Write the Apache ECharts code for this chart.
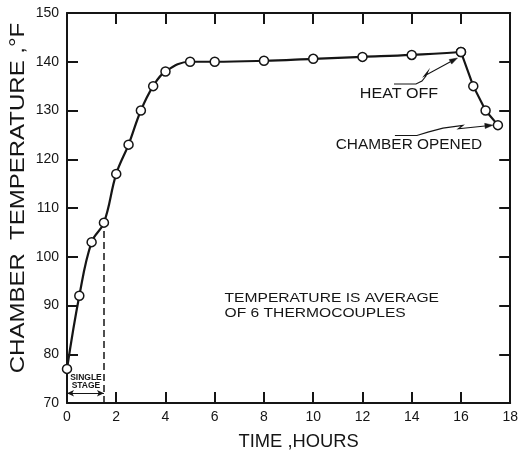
<!DOCTYPE html>
<html><head><meta charset="utf-8">
<script src="https://cdn.jsdelivr.net/npm/echarts@6/dist/echarts.min.js"></script>
<style>html,body{margin:0;padding:0;background:#fff}#c{width:521px;height:454px}</style>
</head><body><div id="c"></div>
<script>
// ---- data ----
const heatingHours = [0, 0.5, 1, 1.5, 2, 2.5, 3, 3.5, 4, 5, 6, 8, 10, 12, 14, 16];
const heatingTemps = [77, 92, 103, 107, 117, 123, 130, 135, 138, 140, 140, 140.2, 140.6, 141, 141.4, 142];
const coolingHours = [16, 16.5, 17, 17.5];
const coolingTemps = [142, 135, 130, 127];
const xTickLabels = [0, 2, 4, 6, 8, 10, 12, 14, 16, 18];
const yTickLabels = [70, 80, 90, 100, 110, 120, 130, 140, 150];
const singleStageEnd = 1.5;
const xName = 'TIME ,HOURS';
const yName = 'CHAMBER  TEMPERATURE ,°F';
const noteLines = ['TEMPERATURE IS AVERAGE', 'OF 6 THERMOCOUPLES'];
const heatOffLabel = 'HEAT OFF';
const openedLabel = 'CHAMBER OPENED';

const INK = '#151515';
const FONT = '"Liberation Sans", Arial, sans-serif';
const pair = (xs, ys) => xs.map((x, i) => [x, ys[i]]);

const chart = echarts.init(document.getElementById('c'), null, {renderer: 'canvas'});

const xMin = xTickLabels[0], xMax = xTickLabels[xTickLabels.length - 1];
const yMin = yTickLabels[0], yMax = yTickLabels[yTickLabels.length - 1];
const xInt = xTickLabels[1] - xTickLabels[0], yInt = yTickLabels[1] - yTickLabels[0];

const axisCommon = {
  type: 'value',
  axisLine: {show: true, onZero: false, lineStyle: {color: INK, width: 2}},
  axisTick: {show: true, inside: true, length: 11, lineStyle: {color: INK, width: 2}},
  splitLine: {show: false}
};

chart.setOption({
  animation: false,
  backgroundColor: '#fff',
  grid: {left: 67, right: 9, top: 13, bottom: 51},
  xAxis: [
    Object.assign({}, axisCommon, {
      position: 'bottom', min: xMin, max: xMax, interval: xInt,
      axisLabel: {show: true, margin: 7, color: INK, fontSize: 14, fontFamily: FONT}
    }),
    Object.assign({}, axisCommon, {
      position: 'top', min: xMin, max: xMax, interval: xInt,
      axisLabel: {show: false}
    })
  ],
  yAxis: [
    Object.assign({}, axisCommon, {
      position: 'left', min: yMin, max: yMax, interval: yInt,
      axisLabel: {show: true, margin: 8, color: INK, fontSize: 14, fontFamily: FONT}
    }),
    Object.assign({}, axisCommon, {
      position: 'right', min: yMin, max: yMax, interval: yInt,
      axisLabel: {show: false}
    })
  ],
  series: [
    {
      type: 'line', xAxisIndex: 0, yAxisIndex: 0,
      data: pair(heatingHours, heatingTemps),
      smooth: 0.4,
      symbol: 'circle', symbolSize: 9,
      itemStyle: {color: '#fff', borderColor: INK, borderWidth: 1.5},
      lineStyle: {color: INK, width: 2.2},
      z: 5,
      markLine: {
        silent: true, symbol: ['none', 'none'], label: {show: false},
        lineStyle: {color: INK, width: 1.5, type: [7, 4]},
        data: [[{coord: [singleStageEnd, yMin]}, {coord: [singleStageEnd, heatingTemps[heatingHours.indexOf(singleStageEnd)]]}]]
      }
    },
    {
      type: 'line', xAxisIndex: 0, yAxisIndex: 0,
      data: pair(coolingHours, coolingTemps),
      smooth: false,
      symbol: 'circle', symbolSize: 9,
      itemStyle: {color: '#fff', borderColor: INK, borderWidth: 1.5},
      lineStyle: {color: INK, width: 2.2},
      z: 5,
      markLine: {
        silent: true, symbol: ['arrow', 'arrow'], symbolSize: [5, 7], label: {show: false},
        lineStyle: {color: INK, width: 1, type: 'solid'},
        data: [[{coord: [xMin, 72]}, {coord: [singleStageEnd, 72]}]]
      }
    }
  ]
});

// ---- annotations placed from data coordinates ----
const px = (x, y) => chart.convertToPixel({xAxisIndex: 0, yAxisIndex: 0}, [x, y]);
function text(str, x, y, size, opts) {
  opts = opts || {};
  return {
    type: 'text', x: x, y: y, rotation: opts.rotation || 0,
    scaleX: opts.scaleX || 1, scaleY: 1, silent: true, z: 20,
    style: {
      text: str, x: 0, y: 0, fill: INK,
      font: (opts.bold ? 'bold ' : '') + size + 'px ' + FONT,
      textAlign: opts.align || 'center', textVerticalAlign: 'middle', verticalAlign: 'middle'
    }
  };
}
function leader(P, rel) {
  const pts = rel.map(r => [P[0] + r[0], P[1] + r[1]]);
  const tip = pts[pts.length - 1], prev = pts[pts.length - 2];
  const dx = tip[0] - prev[0], dy = tip[1] - prev[1], L = Math.hypot(dx, dy);
  const ux = dx / L, uy = dy / L, len = 8, w = 2.6;
  const bx = tip[0] - ux * len, by = tip[1] - uy * len;
  return [
    {type: 'polyline', silent: true, z: 20, shape: {points: pts.slice(0, -1).concat([[bx, by]])},
     style: {stroke: INK, lineWidth: 1.1, fill: null}},
    {type: 'polygon', silent: true, z: 20,
     shape: {points: [tip, [bx - uy * w, by + ux * w], [bx + uy * w, by - ux * w]]},
     style: {fill: INK, stroke: INK, lineWidth: 0.5}}
  ];
}

const pHeat = px(coolingHours[0], coolingTemps[0]);
const pOpen = px(coolingHours[coolingHours.length - 1], coolingTemps[coolingTemps.length - 1]);
const grid = {l: px(xMin, yMax)[0], r: px(xMax, yMax)[0], t: px(xMin, yMax)[1], b: px(xMin, yMin)[1]};

const elements = [];
// axis names
elements.push(text(xName, (grid.l + grid.r) / 2 + 10, grid.b + 39, 18, {scaleX: 1.02}));
elements.push(text(yName, 18, (grid.t + grid.b) / 2 - 10, 20, {rotation: Math.PI / 2, scaleX: 1.2}));
// single stage
const ss1 = px(singleStageEnd / 2, 75.1), ss2 = px(singleStageEnd / 2, 73.5);
elements.push(text('SINGLE', ss1[0] + 0.5, ss1[1], 8.5, {bold: true}));
elements.push(text('STAGE', ss2[0] + 0.5, ss2[1], 8.5, {bold: true}));
// note
const n1 = px(6.4, 91.5), n2 = px(6.4, 88.4);
elements.push(text(noteLines[0], n1[0], n1[1], 13, {align: 'left', scaleX: 1.2}));
elements.push(text(noteLines[1], n2[0], n2[1], 13, {align: 'left', scaleX: 1.2}));
// heat off
elements.push(text(heatOffLabel, pHeat[0] - 62, pHeat[1] + 42, 14, {scaleX: 1.15}));
leader(pHeat, [[-67, 32], [-45, 32], [-39, 29], [-35, 24], [-33, 19.4], [-36.7, 24], [-3.5, 6]]).forEach(e => elements.push(e));
// chamber opened
elements.push(text(openedLabel, pOpen[0] - 89, pOpen[1] + 20, 14, {scaleX: 1.1}));
leader(pOpen, [[-103, 10.3], [-81, 10.3], [-70, 7], [-55, 3], [-35, 0.3], [-39.5, 3.6], [-5, 0]]).forEach(e => elements.push(e));

chart.setOption({graphic: {elements: elements}});
</script>
</body></html>
